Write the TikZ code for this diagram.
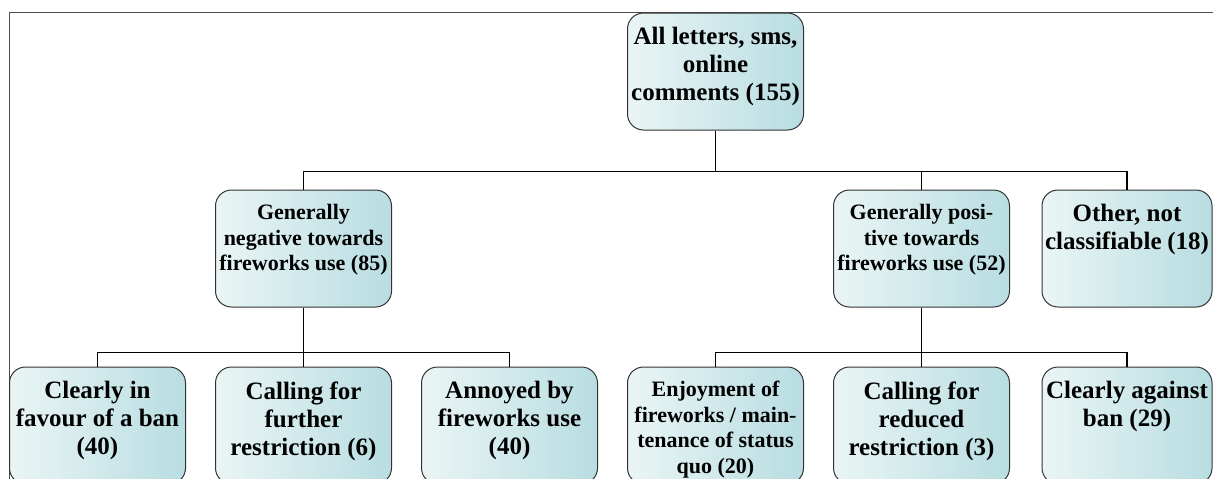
\documentclass[tikz,border=0pt]{standalone}
\usepackage{fontspec}
\setmainfont{Liberation Serif}
\usetikzlibrary{positioning}
\definecolor{boxleft}{RGB}{234,245,245}
\definecolor{boxright}{RGB}{184,221,225}
\newcommand{\bigtxt}[2][170pt]{\parbox[t][88pt][t]{#1}{\centering\fontsize{25}{28}\selectfont\bfseries #2}}
\newcommand{\smalltxt}[2][170pt]{\parbox[t][88pt][t]{#1}{\centering\fontsize{22}{25.5}\selectfont\bfseries #2}}

\begin{document}
\begin{tikzpicture}[x=1pt,y=1pt,node distance=206pt,on grid,
 box/.style={draw=black!80,line width=1pt,rounded corners=16pt,left color=boxleft,right color=boxright,inner xsep=3pt,inner ysep=14.5pt},
 link/.style={line width=1.6pt}]
 \useasboundingbox (0,0) rectangle (1213,-479);
 \draw[black!70,line width=1pt] (9,-12.3) rectangle (1260,-540);
 \node[box] (ban) at (97.5,-425.5) {\bigtxt{Clearly in\\favour of a ban\\(40)}};
 \node[box] (further)[right=of ban] {\bigtxt{Calling for\\further\\restriction (6)}};
 \node[box] (annoyed)[right=of further] {\bigtxt{Annoyed by\\fireworks use\\(40)}};
 \node[box] (enjoy)[right=of annoyed] {\smalltxt{Enjoyment of\\fireworks / main-\\tenance of status\\quo (20)}};
 \node[box] (reduced)[right=of enjoy] {\bigtxt{Calling for\\reduced\\restriction (3)}};
 \node[box] (against) at (1127,-425.5) {\bigtxt[164pt]{Clearly against\\ban (29)}};
 \node[box] (neg)[above=177pt of further] {\smalltxt{Generally\\negative towards\\fireworks use (85)}};
 \node[box] (pos)[above=177pt of reduced] {\smalltxt{Generally posi-\\tive towards\\fireworks use (52)}};
 \node[box] (other)[above=177pt of against] {\bigtxt[164pt]{Other, not\\classifiable (18)}};
 \node[box] (all)[above=354pt of enjoy] {\bigtxt{All letters, sms,\\online\\comments (155)}};
 \draw[link] (all.south) -- ++(0,-41) coordinate (bartop);
 \draw[link] (bartop) -| (neg.north);
 \draw[link] (bartop) -| (pos.north);
 \draw[link] (bartop) -| (other.north);
 \draw[link] (neg.south) -- ++(0,-45) coordinate (barneg);
 \draw[link] (barneg) -| (ban.north);
 \draw[link] (barneg) -| (further.north);
 \draw[link] (barneg) -| (annoyed.north);
 \draw[link] (pos.south) -- ++(0,-45) coordinate (barpos);
 \draw[link] (barpos) -| (enjoy.north);
 \draw[link] (barpos) -| (reduced.north);
 \draw[link] (barpos) -| (against.north);
\end{tikzpicture}
\end{document}
